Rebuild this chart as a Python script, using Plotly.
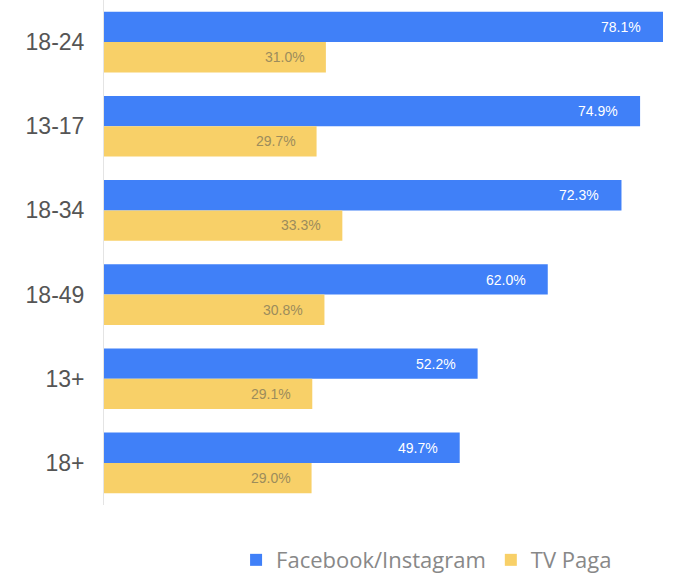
import plotly.graph_objects as go

categories = ["18-24", "13-17", "18-34", "18-49", "13+", "18+"]
facebook_instagram = [78.1, 74.9, 72.3, 62.0, 52.2, 49.7]
tv_paga = [31.0, 29.7, 33.3, 30.8, 29.1, 29.0]
series_names = ["Facebook/Instagram", "TV Paga"]

BLUE = "#4080f8"
YELLOW = "#f8d068"

fig = go.Figure()
fig.add_trace(go.Bar(y=categories, x=facebook_instagram, name=series_names[0],
                     orientation="h", marker=dict(color=BLUE, line=dict(width=0)),
                     hoverinfo="x+y"))
fig.add_trace(go.Bar(y=categories, x=tv_paga, name=series_names[1],
                     orientation="h", marker=dict(color=YELLOW, line=dict(width=0)),
                     hoverinfo="x+y"))

annotations = []
for c, v in zip(categories, facebook_instagram):
    annotations.append(dict(x=v, y=c, xref="x", yref="y", text=f"{v:.1f}%",
                            showarrow=False, xanchor="right", yanchor="middle",
                            xshift=-20, yshift=15,
                            font=dict(family="Arial", size=14, color="#ffffff")))
for c, v in zip(categories, tv_paga):
    annotations.append(dict(x=v, y=c, xref="x", yref="y", text=f"{v:.1f}%",
                            showarrow=False, xanchor="right", yanchor="middle",
                            xshift=-19, yshift=-15,
                            font=dict(family="Arial", size=14, color="#9c8c5c")))

fig.update_layout(
    width=676, height=579,
    margin=dict(l=104, r=11, t=0, b=74, autoexpand=False),
    paper_bgcolor="white", plot_bgcolor="white",
    barmode="group", bargap=0.28, bargroupgap=0,
    xaxis=dict(range=[0, 78.38], visible=False, fixedrange=True),
    yaxis=dict(autorange="reversed", showline=True, linecolor="#e4e4e4", linewidth=1,
               showgrid=False, ticks="", ticklabelstandoff=14, automargin=False,
               tickfont=dict(family="Arial", size=23, color="#555555")),
    showlegend=True,
    legend=dict(orientation="h", x=0.575, xanchor="center", y=-0.109, yanchor="middle",
                font=dict(family="Open Sans", size=22, color="#888888"),
                itemwidth=30, traceorder="normal"),
    annotations=annotations,
)

fig.write_html("out.html", config={"displayModeBar": False},
               post_script="document.body.style.margin='0';")
